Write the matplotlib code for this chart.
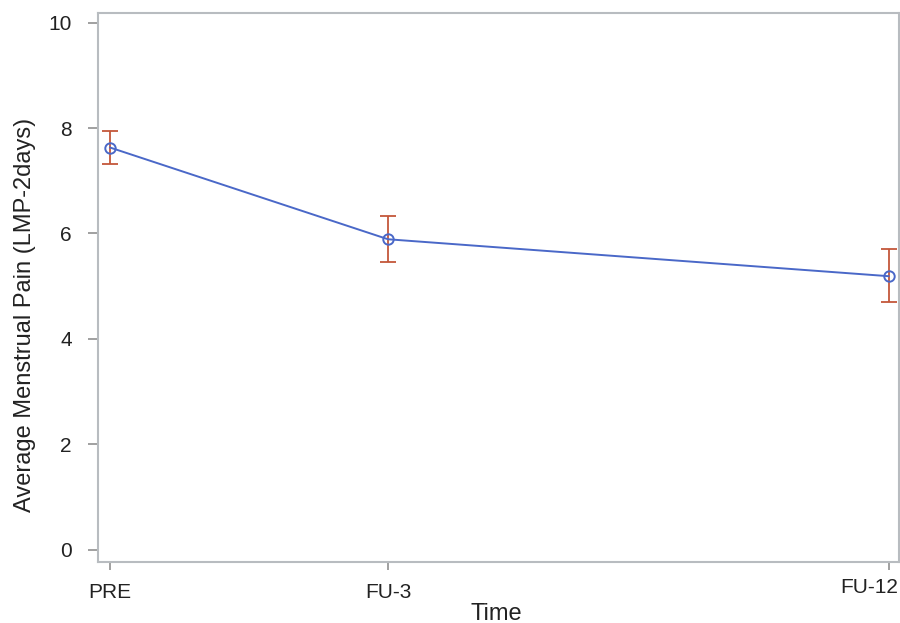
import matplotlib.pyplot as plt
import matplotlib.transforms as mtransforms

plt.rcParams['font.family'] = ['Liberation Sans', 'DejaVu Sans']

# data
time_labels = ["PRE", "FU-3", "FU-12"]
time_pos = [0.0, 1.0, 2.8]
mean_pain = [7.63, 5.89, 5.19]
err_low = [7.31, 5.45, 4.70]
err_high = [7.95, 6.34, 5.70]

line_color = "#4a68c8"
err_color = "#c4573a"
frame_color = "#b8bcc0"

fig = plt.figure(figsize=(9, 6.23), dpi=100)
ax = fig.add_axes([0.109, 0.098, 0.89, 0.881])

yerr = [[m - lo for m, lo in zip(mean_pain, err_low)],
        [hi - m for m, hi in zip(mean_pain, err_high)]]
ax.errorbar(time_pos, mean_pain, yerr=yerr, fmt="none", ecolor=err_color,
            elinewidth=1.3, capsize=5.5, capthick=1.3, zorder=2)
ax.plot(time_pos, mean_pain, color=line_color, lw=1.4, marker="o", ms=7.5,
        mfc="none", mec=line_color, mew=1.4, zorder=3)

ax.set_xlim(-0.043, 2.838)
ax.set_ylim(-0.23, 10.18)
ax.set_yticks([0, 2, 4, 6, 8, 10])
ax.set_xticks(time_pos)
ax.set_xticklabels(time_labels)

for s in ax.spines.values():
    s.set_color(frame_color)
    s.set_linewidth(1.5)

ax.tick_params(axis="both", colors="#909090", labelcolor="#222222",
               labelsize=15, width=1.2)
ax.tick_params(axis="x", pad=9, length=6)
ax.tick_params(axis="y", pad=12, length=7)

# last tick label pulled in to stay inside the figure
labs = ax.get_xticklabels()
labs[2].set_ha("right")
labs[2].set_transform(labs[2].get_transform() +
                      mtransforms.ScaledTranslation(0.10, 0.05, fig.dpi_scale_trans))

ax.set_xlabel("Time", fontsize=17, color="#222222")
ax.set_ylabel("Average Menstrual Pain (LMP-2days)", fontsize=17, color="#222222")
ax.xaxis.set_label_coords(0.497, -0.074)
ax.yaxis.set_label_coords(-0.078, 0.45)

fig.savefig("out.png", dpi=100)
